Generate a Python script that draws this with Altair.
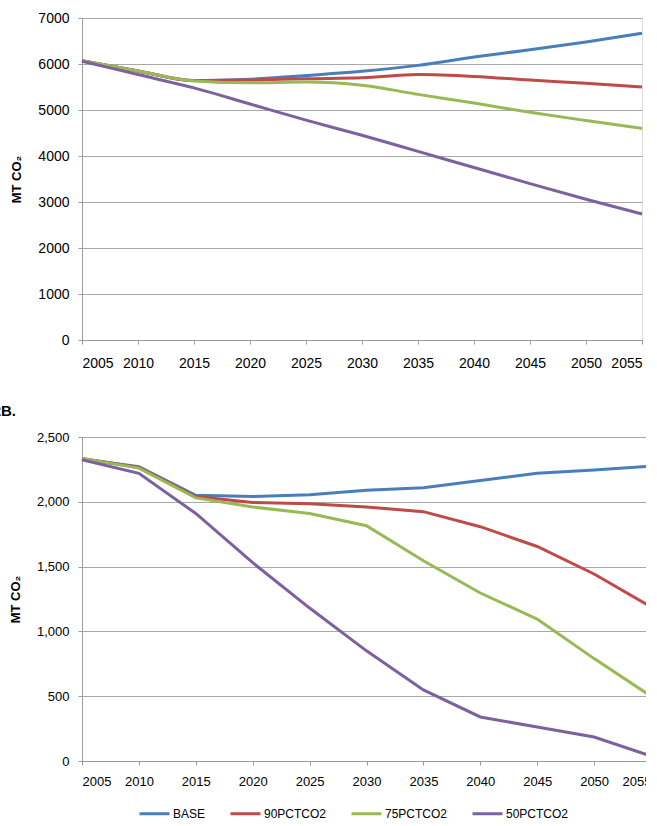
import altair as alt
import pandas as pd

years = [2005, 2010, 2015, 2020, 2025, 2030, 2035, 2040, 2045, 2050, 2055]
series = ["BASE", "90PCTCO2", "75PCTCO2", "50PCTCO2"]
colors = ["#4A7EBB", "#BE4B48", "#98B954", "#7D60A0"]

# Panel A (top)
a_base = [6070, 5850, 5640, 5670, 5750, 5840, 5970, 6150, 6310, 6480, 6670]
a_90 = [6070, 5850, 5640, 5650, 5680, 5700, 5770, 5730, 5650, 5580, 5500]
a_75 = [6070, 5850, 5630, 5590, 5610, 5540, 5340, 5150, 4950, 4770, 4600]
a_50 = [6060, 5770, 5480, 5130, 4780, 4450, 4100, 3750, 3400, 3060, 2740]

# Panel B (bottom)
b_base = [2330, 2270, 2050, 2040, 2055, 2090, 2108, 2165, 2220, 2245, 2275]
b_90 = [2335, 2265, 2040, 1995, 1985, 1960, 1924, 1808, 1655, 1443, 1190]
b_75 = [2335, 2260, 2030, 1960, 1910, 1815, 1545, 1296, 1095, 790, 500]
b_50 = [2325, 2220, 1910, 1530, 1180, 850, 548, 340, 262, 185, 38]

a_ticks = [0, 1000, 2000, 3000, 4000, 5000, 6000, 7000]
b_ticks = [0, 500, 1000, 1500, 2000, 2500]


def long(vals):
    rows = []
    for s, v in zip(series, vals):
        for y, val in zip(years, v):
            rows.append({"year": y, "series": s, "value": val})
    return pd.DataFrame(rows)


dfa = long([a_base, a_90, a_75, a_50])
dfb = long([b_base, b_90, b_75, b_50])

FONT = "Liberation Sans"
GRID = "#A8A8A8"
DOM = "#9C9C9C"

color_scale = alt.Scale(domain=series, range=colors)


def xaxis(size, pad):
    return alt.Axis(values=years, format="d", title=None, grid=False,
                    domainColor=DOM, tickColor=DOM, tickSize=4,
                    labelFont=FONT, labelFontSize=size, labelColor="#000000",
                    labelPadding=pad, labelOverlap=False)


def yaxis(vals, fmt, size):
    return alt.Axis(values=vals, format=fmt, title="MT CO₂", grid=True,
                    gridColor=GRID, domainColor=DOM, tickColor=DOM, tickSize=4,
                    labelFont=FONT, labelFontSize=size, labelColor="#000000",
                    labelPadding=9, titleFont=FONT, titleFontSize=13,
                    titleFontWeight="bold", titleColor="#000000", titlePadding=14)


top = alt.Chart(dfa).mark_line(strokeWidth=3, interpolate="monotone").encode(
    x=alt.X("year:Q", scale=alt.Scale(domain=[2005, 2055], nice=False, zero=False), axis=xaxis(14, 12)),
    y=alt.Y("value:Q", scale=alt.Scale(domain=[0, 7000], nice=False), axis=yaxis(a_ticks, "d", 14)),
    color=alt.Color("series:N", scale=color_scale, legend=None),
    order=alt.Order("year:Q"),
).properties(width=560, height=322)

lines_b = alt.Chart(dfb).mark_line(strokeWidth=3).encode(
    x=alt.X("year:Q", scale=alt.Scale(domain=[2005, 2055], nice=False, zero=False), axis=xaxis(13, 10)),
    y=alt.Y("value:Q", scale=alt.Scale(domain=[0, 2500], nice=False), axis=yaxis(b_ticks, ",.0f", 13)),
    color=alt.Color("series:N", scale=color_scale, sort=series,
                    legend=alt.Legend(title=None, orient="none", direction="horizontal",
                                      legendX=56, legendY=360, symbolType="stroke",
                                      symbolSize=900, symbolStrokeWidth=3,
                                      labelFont=FONT, labelFontSize=12,
                                      labelColor="#000000", columnPadding=18,
                                      labelOffset=2)),
    order=alt.Order("year:Q"),
)

label_b = alt.Chart(pd.DataFrame({"t": ["2B."]})).mark_text(
    font=FONT, fontSize=15, fontWeight="bold", align="right", baseline="middle", color="#000000"
).encode(text="t:N", x=alt.value(-66), y=alt.value(-26))

bottom = alt.layer(lines_b, label_b).properties(width=569, height=324)

chart = alt.vconcat(top, bottom, spacing=32).resolve_legend(color="independent").properties(
    padding={"left": -8, "top": 10, "right": -12, "bottom": 4}
).configure_view(stroke=GRID, strokeWidth=1).configure(background="#FFFFFF")

chart.save("out.html", embed_options={"renderer": "svg", "actions": False})
